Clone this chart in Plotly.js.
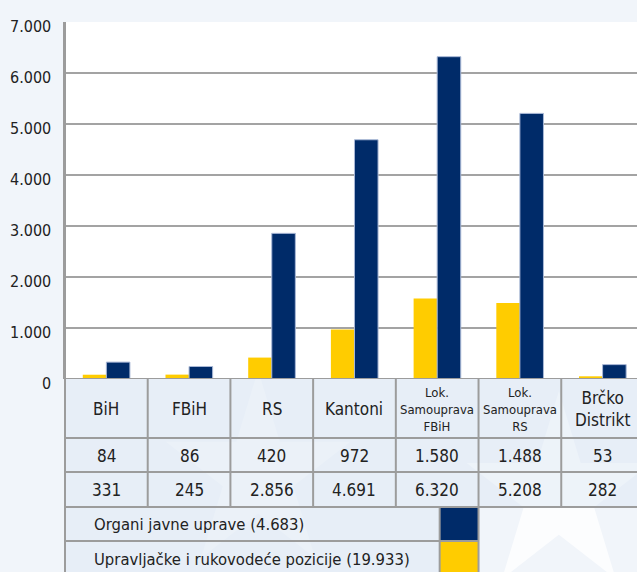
<!DOCTYPE html>
<html><head><meta charset="utf-8">
<script src="https://cdn.plot.ly/plotly-3.0.1.min.js"></script>
<style>html,body{margin:0;padding:0;background:#f2f5fa;}</style>
</head><body>
<div id="chart" style="width:637px;height:572px;"></div>
<script>
const categories = ["BiH","FBiH","RS","Kantoni","Lok. Samouprava FBiH","Lok. Samouprava RS","Brčko Distrikt"];
const headerLabels = ["BiH","FBiH","RS","Kantoni","Lok.<br>Samouprava<br>FBiH","Lok.<br>Samouprava<br>RS","Brčko<br>Distrikt"];
const upravljacke = [84, 86, 420, 972, 1580, 1488, 53];
const organi = [331, 245, 2856, 4691, 6320, 5208, 282];
const seriesNames = ["Organi javne uprave (4.683)", "Upravljačke i rukovodeće pozicije (19.933)"];
const yTicks = [0,1000,2000,3000,4000,5000,6000,7000];

const YELLOW = "#FFCC00", NAVY = "#002B69", BORDER = "#9c9c9c", FONT = "DejaVu Sans Condensed";
const fmt = v => String(v).replace(/\B(?=(\d{3})+(?!\d))/g, ".");

const traces = [
  {type:"bar", x:categories, y:upravljacke, marker:{color:YELLOW, line:{width:0}}, yaxis:"y", hoverinfo:"none"},
  {type:"bar", x:categories, y:organi, marker:{color:NAVY, line:{width:1, color:"#a9b8d6"}}, yaxis:"y", hoverinfo:"none"}
];

// decorative background star (paper pixel geometry)
function starPath(cx, cy, R) {
  const r = R * 0.382; let d = "";
  for (let k = 0; k < 10; k++) {
    const a = -Math.PI / 2 + k * Math.PI / 5, rad = k % 2 ? r : R;
    const px = (cx + rad * Math.cos(a)) / 637, py = 1 - (cy + rad * Math.sin(a)) / 572;
    d += (k ? "L" : "M") + px.toFixed(4) + "," + py.toFixed(4);
  }
  return d + "Z";
}

const rowEdges = [0, 59, 93, 128, 162, 200];
const n = categories.length;
const swL = 4.03, swR = 4.5;
const shapes = [], annotations = [];
const line = {color:BORDER, width:2};
shapes.push({type:"path", xref:"paper", yref:"paper", path:starPath(550, 492, 108), fillcolor:"rgba(255,255,255,0.75)", line:{width:0}, layer:"below"});
shapes.push({type:"path", xref:"paper", yref:"paper", path:starPath(215, 470, 108), fillcolor:"rgba(255,255,255,0.45)", line:{width:0}, layer:"below"});
shapes.push({type:"rect", xref:"x", yref:"y2", x0:-0.5, x1:n-0.5, y0:0, y1:rowEdges[3], fillcolor:"rgba(220,231,245,0.45)", line:{width:0}, layer:"below"});
shapes.push({type:"rect", xref:"x", yref:"y2", x0:-0.5, x1:swL, y0:rowEdges[3], y1:rowEdges[5], fillcolor:"rgba(220,231,245,0.45)", line:{width:0}, layer:"below"});
shapes.push({type:"rect", xref:"x", yref:"y2", x0:swL, x1:swR, y0:rowEdges[3], y1:rowEdges[4], fillcolor:NAVY, line:{width:0}});
shapes.push({type:"rect", xref:"x", yref:"y2", x0:swL, x1:swR, y0:rowEdges[4], y1:rowEdges[5], fillcolor:YELLOW, line:{width:0}});
for (let r = 1; r <= 4; r++) {
  const x1 = r <= 3 ? n - 0.5 : swR;
  shapes.push({type:"line", xref:"x", yref:"y2", x0:-0.5, x1:x1, y0:rowEdges[r], y1:rowEdges[r], line});
}
for (let i = 0; i <= n; i++) {
  shapes.push({type:"line", xref:"x", yref:"y2", x0:i-0.5, x1:i-0.5, y0:0, y1:rowEdges[3], line});
}
[swL, swR].forEach(x => shapes.push({type:"line", xref:"x", yref:"y2", x0:x, x1:x, y0:rowEdges[3], y1:rowEdges[5], line}));

yTicks.forEach(v => {
  annotations.push({xref:"paper", yref:"y", x:0, y:v, text:fmt(v), showarrow:false, xanchor:"right", yanchor:"middle",
    xshift:-12, yshift:-4, font:{family:FONT, size:16, color:"#222"}});
});
categories.forEach((c, i) => {
  const multi = headerLabels[i].split("<br>").length;
  annotations.push({xref:"x", yref:"y2", x:i, y:30, text:headerLabels[i], showarrow:false,
    font:{family:FONT, size: multi===3 ? 13 : 17, color:"#222"}, yanchor:"middle"});
  annotations.push({xref:"x", yref:"y2", x:i, y:77, text:fmt(upravljacke[i]), showarrow:false,
    font:{family:FONT, size:17, color:"#222"}, yanchor:"middle"});
  annotations.push({xref:"x", yref:"y2", x:i, y:111, text:fmt(organi[i]), showarrow:false,
    font:{family:FONT, size:17, color:"#222"}, yanchor:"middle"});
});
seriesNames.forEach((s, k) => {
  annotations.push({xref:"x", yref:"y2", x:-0.17, y:145 + k*35, text:s, showarrow:false, xanchor:"left",
    font:{family:FONT, size:16.5, color:"#222"}, yanchor:"middle"});
});

const layout = {
  width:637, height:572,
  margin:{l:65, r:0, t:22, b:0},
  paper_bgcolor:"#f1f5fa", plot_bgcolor:"rgba(0,0,0,0)",
  separators:",.",
  showlegend:false,
  barmode:"group", bargap:0.43, bargroupgap:0,
  font:{family:FONT, color:"#222"},
  xaxis:{type:"category", categoryarray:categories, range:[-0.5, 6.416], showticklabels:false, showgrid:false,
    zeroline:false, showline:false, ticks:"", fixedrange:true},
  yaxis:{domain:[0.3509, 1], range:[0, 7000], tickvals:yTicks, showticklabels:false, showgrid:true, gridcolor:"#a3a3a3", gridwidth:2,
    zeroline:false, showline:true, linecolor:BORDER, linewidth:2, ticks:""},
  yaxis2:{domain:[0, 0.3509], range:[193, 0], visible:false, anchor:"x"},
  shapes:[
    {type:"rect", xref:"x", yref:"y", x0:-0.5, x1:6.416, y0:0, y1:7000, fillcolor:"#ffffff", line:{width:0}, layer:"below"},
    {type:"line", xref:"paper", yref:"paper", x0:0, x1:0, y0:0, y1:1, line},
    {type:"line", xref:"x", yref:"y", x0:-0.5, x1:6.416, y0:0, y1:0, line},
    ...shapes],
  annotations
};
Plotly.newPlot("chart", traces, layout, {displayModeBar:false, staticPlot:true});
</script>
</body></html>
